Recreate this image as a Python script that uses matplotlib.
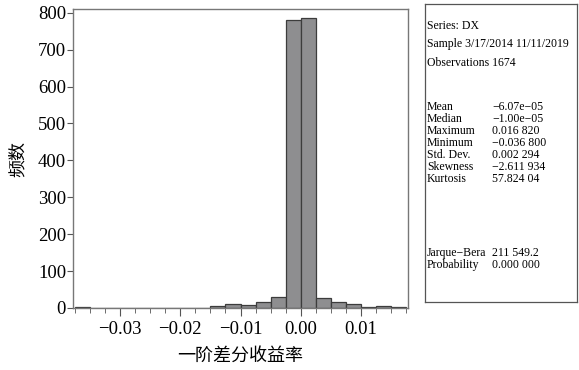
import numpy as np
import matplotlib
matplotlib.use('Agg')
import matplotlib.pyplot as plt
from matplotlib.ticker import MultipleLocator, FuncFormatter

plt.rcParams['font.family'] = ['Liberation Serif', 'Noto Sans CJK SC']

# histogram of first-difference returns, bins of width 0.0025
bin_left = [-0.0375 + 0.0025 * i for i in range(22)]
counts = [2, 0, 0, 0, 0, 0, 0, 0, 1, 6, 11, 8, 17, 31, 781, 786, 27, 16, 10, 3, 6, 3]
bin_width = 0.0025

head_lines = ['Series: DX', 'Sample 3/17/2014 11/11/2019', 'Observations 1674']
stat_names = ['Mean', 'Median', 'Maximum', 'Minimum', 'Std. Dev.', 'Skewness', 'Kurtosis']
stat_values = ['\u22126.07e\u221205', '\u22121.00e\u221205', '0.016 820', '\u22120.036 800',
               '0.002 294', '\u22122.611 934', '57.824 04']
jb_names = ['Jarque\u2212Bera', 'Probability']
jb_values = ['211 549.2', '0.000 000']

fig = plt.figure(figsize=(5.79, 3.70), dpi=100)
ax = fig.add_axes([73 / 579, 1 - 308 / 370, (408 - 73) / 579, (308 - 9) / 370])

ax.bar(bin_left, counts, width=bin_width, align='edge',
       color='#8e8e90', edgecolor='#3c3c3c', linewidth=0.9)

ax.set_xlim(-0.0378, 0.0178)
ax.set_ylim(0, 810)
ax.xaxis.set_major_locator(MultipleLocator(0.01))
ax.xaxis.set_minor_locator(MultipleLocator(0.0025))
ax.yaxis.set_major_locator(MultipleLocator(100))
ax.xaxis.set_major_formatter(FuncFormatter(lambda v, p: ('%.2f' % v).replace('-', '\u2212')))
ax.tick_params(axis='both', which='major', labelsize=13.5, color='#555555', direction='out')
ax.tick_params(axis='x', which='major', length=6, pad=3)
ax.tick_params(axis='x', which='minor', length=3.5, color='#555555')
ax.tick_params(axis='y', which='major', length=4, pad=1)
for s in ax.spines.values():
    s.set_color('#777777')
    s.set_linewidth(1.0)

ax.set_xlabel('一阶差分收益率', fontsize=13, family='Noto Sans CJK SC', labelpad=7)
ax.set_ylabel('频数', fontsize=13, family='Noto Sans CJK SC', labelpad=8)

# statistics box
box = fig.add_axes([425 / 579, 1 - 302 / 370, (577 - 425) / 579, (302 - 4) / 370])
box.set_xticks([])
box.set_yticks([])
box.set_xlim(0, 152)
box.set_ylim(298, 0)
for s in box.spines.values():
    s.set_color('#555555')
    s.set_linewidth(0.9)

fs = 8.5
ys = [22, 40, 59]
for y, t in zip(ys, head_lines):
    box.text(2, y, t, fontsize=fs, va='center', ha='left')
for i, (n, v) in enumerate(zip(stat_names, stat_values)):
    y = 103 + 12 * i
    box.text(2, y, n, fontsize=fs, va='center', ha='left')
    box.text(67, y, v, fontsize=fs, va='center', ha='left')
for i, (n, v) in enumerate(zip(jb_names, jb_values)):
    y = 249 + 12 * i
    box.text(2, y, n, fontsize=fs, va='center', ha='left')
    box.text(67, y, v, fontsize=fs, va='center', ha='left')

fig.savefig('out.png', dpi=100)
